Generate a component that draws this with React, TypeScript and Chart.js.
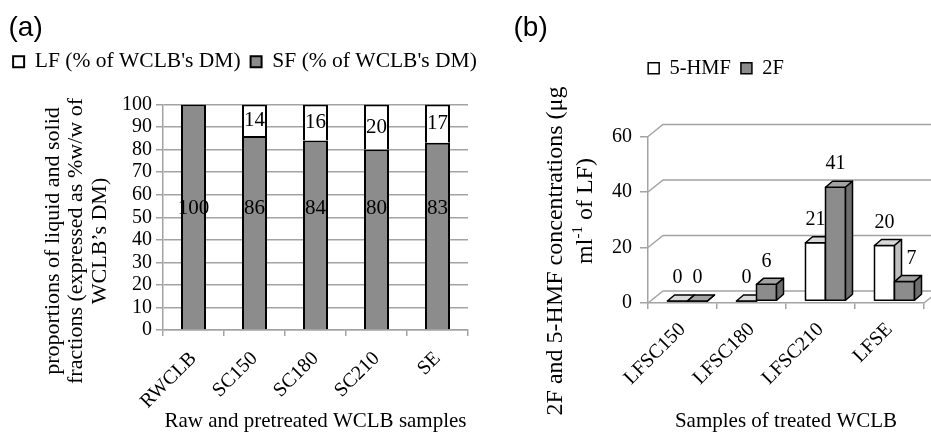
import { useEffect, useRef } from "react";
import { Chart, registerables } from "chart.js";

Chart.register(...registerables);

const SERIF = "'Liberation Serif', 'Times New Roman', serif";
const SANS = "'Liberation Sans', Arial, sans-serif";

// ---------- Panel (a) data ----------
const samplesA = ["RWCLB", "SC150", "SC180", "SC210", "SE"];
const lfShare = [0, 14, 16, 20, 17];
const sfShare = [100, 86, 84, 80, 83];
const yMinA = 0;
const yMaxA = 100;
const yStepA = 10;
const lfLabel = "LF (% of WCLB's DM)";
const sfLabel = "SF (% of WCLB's DM)";
const xTitleA = "Raw and pretreated WCLB samples";
const yTitleA = ["proportions of liquid and solid", "fractions (expressed as %w/w of", "WCLB\u2019s DM)"];

// ---------- Panel (b) data ----------
const samplesB = ["LFSC150", "LFSC180", "LFSC210", "LFSE"];
const hmf5 = [0, 0, 21, 20];
const f2 = [0, 6, 41, 7];
const yMinB = 0;
const yMaxB = 60;
const yStepB = 20;
const hmfLabel = "5-HMF";
const f2Label = "2F";
const xTitleB = "Samples of treated WCLB";
const yTitleB1 = "2F and 5-HMF concentrations (\u03bcg";
const yTitleB2 = ["ml", "-1", " of LF)"];

// ---------- styling ----------
const GRID = "#a3a3a3";
const DARK = "#8c8c8c";
const SF_LABEL_LEVEL = 54;

const WALL_DX = 15;
const WALL_DY = 12;
const BAR_DX = 7;
const BAR_DY = 6;
const SHIFT_X = 5;
const SHIFT_Y = -2;
const FACES = [
  { front: "#ffffff", top: "#d9d9d9", side: "#bfbfbf" },
  { front: DARK, top: "#a3a3a3", side: "#6e6e6e" },
];

Chart.defaults.font.family = SERIF;
Chart.defaults.color = "#000";

function rotatedText(ctx: CanvasRenderingContext2D, text: string, x: number, y: number) {
  ctx.save();
  ctx.translate(x, y);
  ctx.rotate(-Math.PI / 2);
  ctx.textAlign = "center";
  ctx.textBaseline = "middle";
  ctx.fillText(text, 0, 0);
  ctx.restore();
}

function spacer(size: number, position: string) {
  return {
    type: "linear",
    position,
    display: true,
    grid: { display: false },
    border: { display: false },
    ticks: { display: false },
    afterFit: (s: any) => {
      if (position === "top" || position === "bottom") s.height = size;
      else s.width = size;
    },
  };
}

const panelAPlugin = {
  id: "panelA",
  afterDatasetsDraw(chart: any) {
    const ctx = chart.ctx as CanvasRenderingContext2D;
    const ys = chart.scales.y;
    ctx.save();
    ctx.font = `21px ${SERIF}`;
    ctx.fillStyle = "#000";
    ctx.textAlign = "center";
    ctx.textBaseline = "middle";
    const sfMeta = chart.getDatasetMeta(0);
    const lfMeta = chart.getDatasetMeta(1);
    sfMeta.data.forEach((el: any, i: number) => {
      const p = el.getProps(["x"], true);
      ctx.fillText(String(sfShare[i]), p.x, ys.getPixelForValue(SF_LABEL_LEVEL));
    });
    lfMeta.data.forEach((el: any, i: number) => {
      if (lfShare[i] <= 0) return;
      const p = el.getProps(["x", "y", "base"], true);
      ctx.fillText(String(lfShare[i]), p.x, (p.y + p.base) / 2);
    });
    ctx.restore();
  },
  afterDraw(chart: any) {
    const ctx = chart.ctx as CanvasRenderingContext2D;
    ctx.save();
    ctx.fillStyle = "#000";
    ctx.font = `28px ${SANS}`;
    ctx.textAlign = "left";
    ctx.textBaseline = "alphabetic";
    ctx.fillText("(a)", 8.5, 36);
    ctx.font = `22px ${SERIF}`;
    const xs = [53, 76.5, 100];
    yTitleA.forEach((t, k) => rotatedText(ctx, t, xs[k], 241));
    ctx.restore();
  },
};

const panelBPlugin = {
  id: "panelB",
  beforeDatasetsDraw(chart: any) {
    const ctx = chart.ctx as CanvasRenderingContext2D;
    const { chartArea } = chart;
    const ys = chart.scales.y;
    ctx.save();
    ctx.strokeStyle = GRID;
    ctx.lineWidth = 1.5;
    ys.ticks.forEach((t: any) => {
      const py = ys.getPixelForValue(t.value);
      ctx.beginPath();
      ctx.moveTo(chartArea.left, py);
      ctx.lineTo(chartArea.left + WALL_DX, py - WALL_DY);
      ctx.lineTo(chart.width, py - WALL_DY);
      ctx.stroke();
    });
    ctx.beginPath();
    ctx.moveTo(chartArea.right, chartArea.bottom);
    ctx.lineTo(chartArea.right + WALL_DX, chartArea.bottom - WALL_DY);
    ctx.stroke();

    ctx.strokeStyle = "#000";
    ctx.lineWidth = 1.5;
    ctx.lineJoin = "round";
    const metas = chart.data.datasets.map((_: any, d: number) => chart.getDatasetMeta(d));
    const n = chart.data.labels.length;
    for (let i = 0; i < n; i++) {
      metas.forEach((meta: any, d: number) => {
        const el = meta.data[i];
        const p = el.getProps(["x", "y", "base", "width"], true);
        const L = p.x - p.width / 2 + SHIFT_X;
        const R = L + p.width;
        const T = p.y + SHIFT_Y;
        const B = p.base + SHIFT_Y;
        const f = FACES[d];
        ctx.fillStyle = f.front;
        ctx.beginPath();
        ctx.rect(L, T, p.width, B - T);
        ctx.fill();
        ctx.stroke();
        ctx.fillStyle = f.top;
        ctx.beginPath();
        ctx.moveTo(L, T);
        ctx.lineTo(L + BAR_DX, T - BAR_DY);
        ctx.lineTo(R + BAR_DX, T - BAR_DY);
        ctx.lineTo(R, T);
        ctx.closePath();
        ctx.fill();
        ctx.stroke();
        ctx.fillStyle = f.side;
        ctx.beginPath();
        ctx.moveTo(R, T);
        ctx.lineTo(R + BAR_DX, T - BAR_DY);
        ctx.lineTo(R + BAR_DX, B - BAR_DY);
        ctx.lineTo(R, B);
        ctx.closePath();
        ctx.fill();
        ctx.stroke();
      });
    }
    ctx.restore();
    return false;
  },
  afterDraw(chart: any) {
    const ctx = chart.ctx as CanvasRenderingContext2D;
    ctx.save();
    ctx.fillStyle = "#000";
    ctx.font = `20px ${SERIF}`;
    ctx.textAlign = "center";
    ctx.textBaseline = "middle";
    const series = [hmf5, f2];
    series.forEach((vals, d) => {
      chart.getDatasetMeta(d).data.forEach((el: any, i: number) => {
        const p = el.getProps(["x", "y"], true);
        // keep the label clear of a taller neighbouring column's side face
        const nudge = d > 0 && series[d - 1][i] > vals[i] ? BAR_DX : 0;
        ctx.fillText(String(vals[i]), p.x + SHIFT_X + nudge, p.y + SHIFT_Y - 23);
      });
    });
    ctx.font = `28px ${SANS}`;
    ctx.textAlign = "left";
    ctx.textBaseline = "alphabetic";
    ctx.fillText("(b)", 23.5, 36);
    ctx.font = `24px ${SERIF}`;
    rotatedText(ctx, yTitleB1, 66, 251);
    ctx.save();
    ctx.translate(96, 211);
    ctx.rotate(-Math.PI / 2);
    ctx.textBaseline = "middle";
    ctx.textAlign = "left";
    const big = `24px ${SERIF}`;
    const small = `15px ${SERIF}`;
    ctx.font = big;
    const w1 = ctx.measureText(yTitleB2[0]).width;
    const w3 = ctx.measureText(yTitleB2[2]).width;
    ctx.font = small;
    const w2 = ctx.measureText(yTitleB2[1]).width;
    const start = -(w1 + w2 + w3) / 2;
    ctx.font = big;
    ctx.fillText(yTitleB2[0], start, 0);
    ctx.font = small;
    ctx.fillText(yTitleB2[1], start + w1, -8);
    ctx.font = big;
    ctx.fillText(yTitleB2[2], start + w1 + w2, 0);
    ctx.restore();
    ctx.restore();
  },
};

function makeChartA(canvas: HTMLCanvasElement) {
  return new Chart(canvas, {
    type: "bar",
    data: {
      labels: samplesA,
      datasets: [
        {
          label: sfLabel,
          data: sfShare,
          backgroundColor: DARK,
          borderColor: "#000",
          borderWidth: 2,
          barPercentage: 0.41,
          categoryPercentage: 1,
          xAxisID: "x",
          yAxisID: "y",
        },
        {
          label: lfLabel,
          data: lfShare,
          backgroundColor: "#ffffff",
          borderColor: "#000",
          borderWidth: 2,
          barPercentage: 0.41,
          categoryPercentage: 1,
          xAxisID: "x",
          yAxisID: "y",
        },
      ],
    },
    options: {
      responsive: false,
      animation: false,
      devicePixelRatio: 1,
      layout: { padding: { top: 41, left: 0, right: 0, bottom: 0 } },
      plugins: {
        legend: {
          reverse: true,
          labels: {
            font: { family: SERIF, size: 21.5 },
            color: "#000",
            boxWidth: 11,
            boxHeight: 11,
            padding: 10,
          },
        },
        tooltip: { enabled: false },
      },
      scales: {
        x: {
          stacked: true,
          grid: { drawOnChartArea: false, color: GRID, lineWidth: 1.5, tickLength: 6 },
          border: { color: GRID, width: 1.5 },
          ticks: {
            minRotation: 45,
            maxRotation: 45,
            autoSkip: false,
            font: { family: SERIF, size: 20 },
            color: "#000",
            padding: 11,
          },
          title: {
            display: true,
            text: xTitleA,
            font: { family: SERIF, size: 21 },
            color: "#000",
            padding: { top: 0, bottom: 2 },
          },
          afterFit: (s: any) => {
            s.height = 106;
          },
        },
        y: {
          stacked: true,
          min: yMinA,
          max: yMaxA,
          ticks: { stepSize: yStepA, autoSkip: false, font: { family: SERIF, size: 20 }, color: "#000", padding: 4 },
          grid: { color: GRID, lineWidth: 1.5, tickLength: 7 },
          border: { color: GRID, width: 1.5 },
          afterFit: (s: any) => {
            s.width = 163;
          },
        },
        padTop: spacer(22, "top"),
        padRight: spacer(22, "right"),
      },
    } as any,
    plugins: [panelAPlugin as any],
  });
}

function makeChartB(canvas: HTMLCanvasElement) {
  return new Chart(canvas, {
    type: "bar",
    data: {
      labels: samplesB,
      datasets: [
        {
          label: hmfLabel,
          data: hmf5,
          backgroundColor: "#ffffff",
          borderColor: "#000",
          borderWidth: 1.5,
          barPercentage: 1,
          categoryPercentage: 0.58,
          xAxisID: "x",
          yAxisID: "y",
        },
        {
          label: f2Label,
          data: f2,
          backgroundColor: DARK,
          borderColor: "#000",
          borderWidth: 1.5,
          barPercentage: 1,
          categoryPercentage: 0.58,
          xAxisID: "x",
          yAxisID: "y",
        },
      ],
    },
    options: {
      responsive: false,
      animation: false,
      devicePixelRatio: 1,
      layout: { padding: { top: 48, left: 18, right: 7, bottom: 0 } },
      plugins: {
        legend: {
          labels: {
            font: { family: SERIF, size: 20.5 },
            color: "#000",
            boxWidth: 11,
            boxHeight: 11,
            padding: 10,
          },
        },
        tooltip: { enabled: false },
      },
      scales: {
        x: {
          grid: { drawOnChartArea: false, color: GRID, lineWidth: 1.5, tickLength: 6 },
          border: { color: GRID, width: 1.5 },
          ticks: {
            minRotation: 45,
            maxRotation: 45,
            autoSkip: false,
            font: { family: SERIF, size: 20 },
            color: "#000",
            padding: 9,
          },
          title: {
            display: true,
            text: xTitleB,
            font: { family: SERIF, size: 21 },
            color: "#000",
            padding: { top: 0, bottom: 2 },
          },
          afterFit: (s: any) => {
            s.height = 133;
          },
        },
        y: {
          min: yMinB,
          max: yMaxB,
          ticks: { stepSize: yStepB, autoSkip: false, font: { family: SERIF, size: 20 }, color: "#000", padding: 8 },
          grid: { drawOnChartArea: false, color: GRID, lineWidth: 1.5, tickLength: 8 },
          border: { color: GRID, width: 1.5 },
          afterFit: (s: any) => {
            s.width = 140;
          },
        },
        padTop: spacer(48, "top"),
      },
    } as any,
    plugins: [panelBPlugin as any],
  });
}

export default function App() {
  const refA = useRef<HTMLCanvasElement>(null);
  const refB = useRef<HTMLCanvasElement>(null);

  useEffect(() => {
    const a = makeChartA(refA.current!);
    const b = makeChartB(refB.current!);
    return () => {
      a.destroy();
      b.destroy();
    };
  }, []);

  return (
    <div style={{ position: "fixed", left: 0, top: 0, width: 931, height: 436, background: "#fff", overflow: "hidden" }}>
      <div style={{ position: "absolute", left: 0, top: 0, width: 490, height: 436 }}>
        <canvas ref={refA} width={490} height={436} style={{ display: "block" }} />
      </div>
      <div style={{ position: "absolute", left: 490, top: 0, width: 441, height: 436 }}>
        <canvas ref={refB} width={441} height={436} style={{ display: "block" }} />
      </div>
    </div>
  );
}
